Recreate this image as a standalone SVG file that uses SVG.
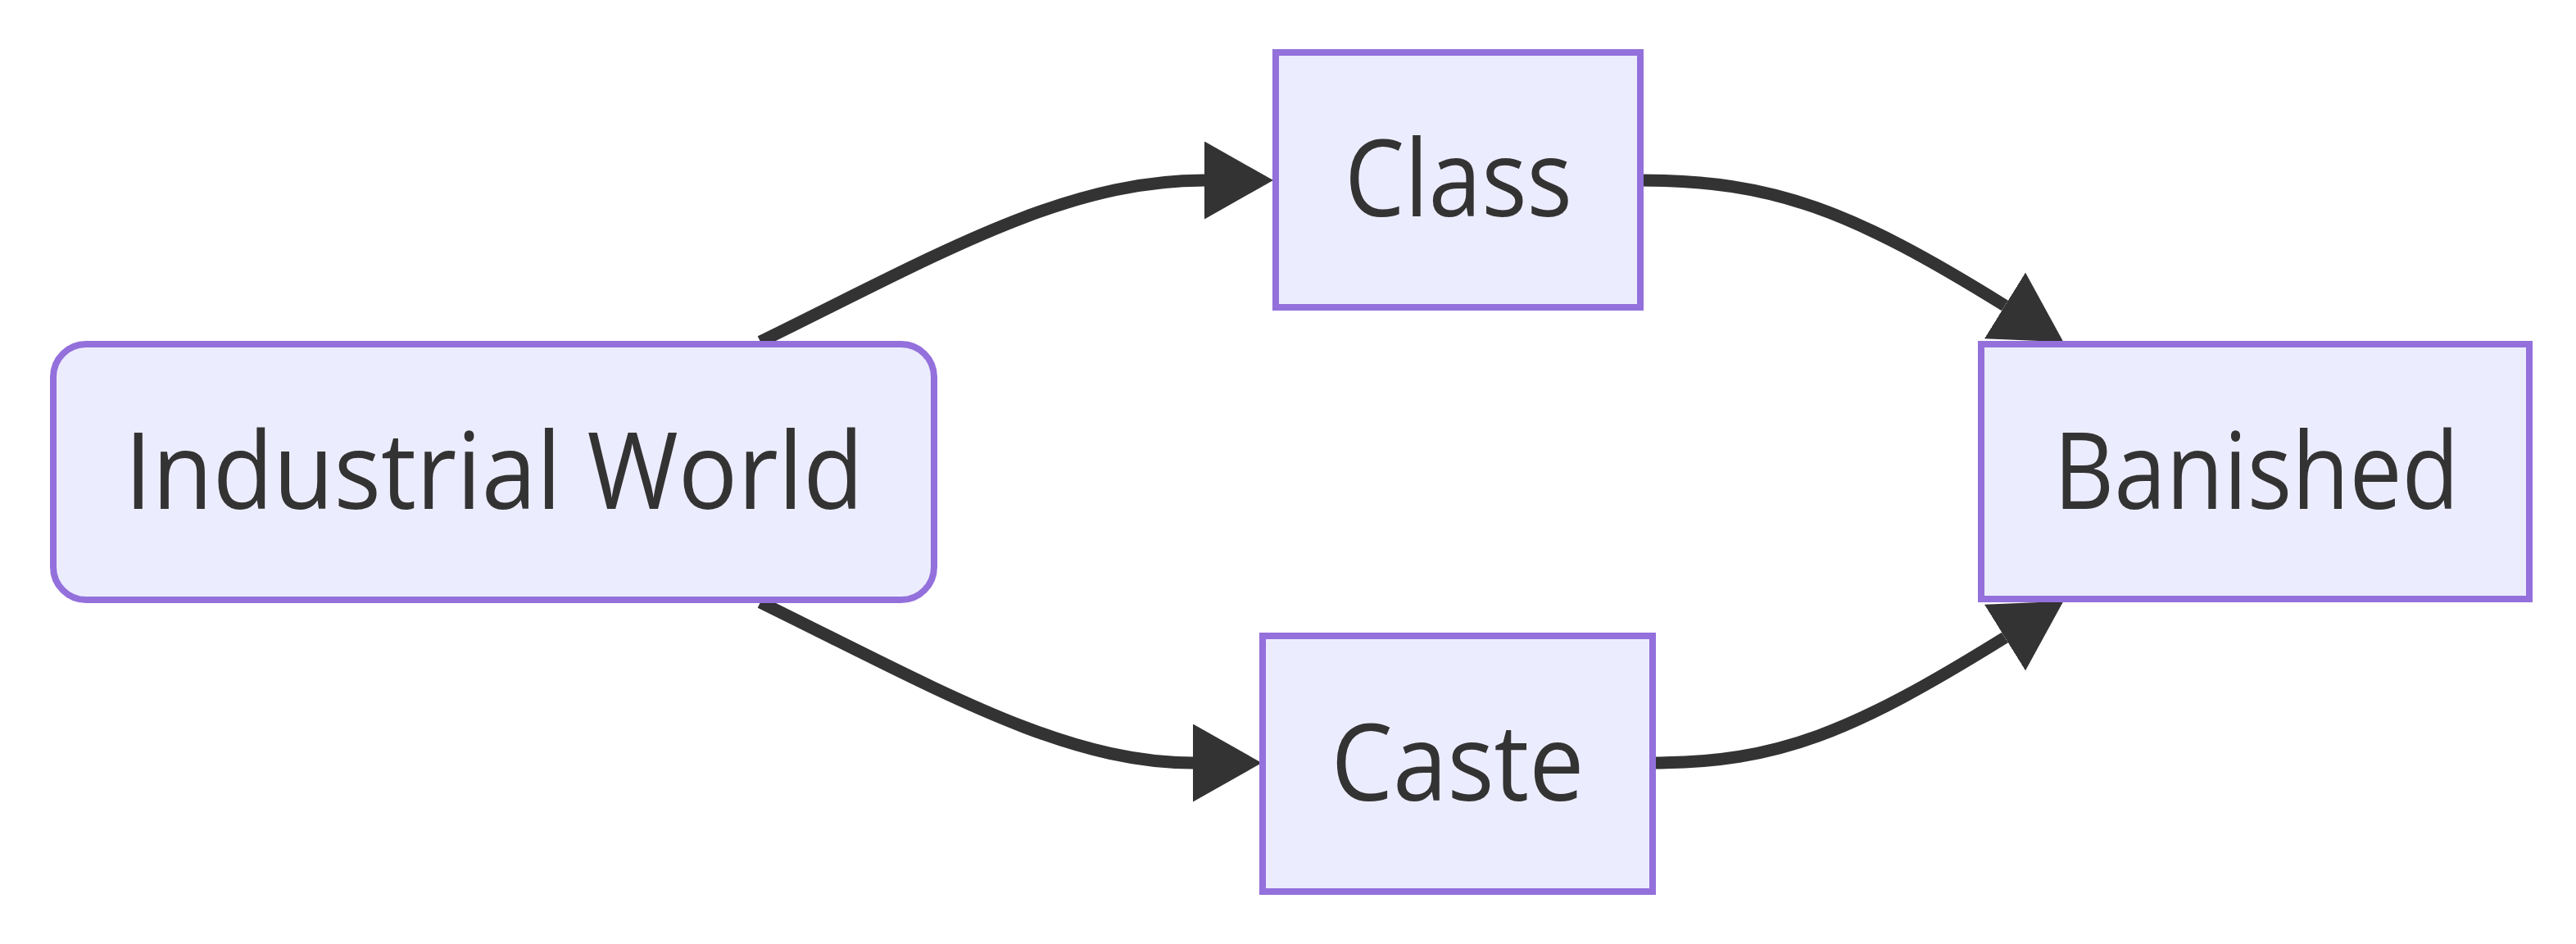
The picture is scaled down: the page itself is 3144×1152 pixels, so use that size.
<svg xmlns="http://www.w3.org/2000/svg" width="3144" height="1152" viewBox="0 0 3144 1152">
  <style>
    .node rect { fill: #ECECFF; stroke: #9370DB; stroke-width: 8; }
    .label { font-family: "Open Sans", "Liberation Sans", sans-serif; font-size: 130px; font-weight: 500; fill: #333333; text-anchor: middle; }
    .edge { fill: none; stroke: #333333; stroke-width: 15; marker-end: url(#arrow); }
  </style>
  <defs>
    <marker id="arrow" viewBox="0 0 84 95" refX="0" refY="47.5" markerWidth="84" markerHeight="95" markerUnits="userSpaceOnUse" orient="auto">
      <path d="M0,0 L84,47.5 L0,95 z" fill="#333333"/>
    </marker>
  </defs>
  <rect x="0" y="0" width="3144" height="1152" fill="#FFFFFF"/>
  <g id="connectors">
    <path class="edge" d="M928,417 C1150,308 1300,220 1470,220"/>
    <path class="edge" d="M928,735 C1150,844 1300,931 1456,931"/>
    <path class="edge" d="M2002,220 C2165,220 2260,257 2447,373"/>
    <path class="edge" d="M2017,931 C2170,931 2260,894 2447,778"/>
  </g>
  <g id="node-industrial-world" class="node">
    <rect x="65" y="420" width="1075" height="312" rx="40" ry="40"/>
    <text class="label" x="603" y="621" textLength="902" lengthAdjust="spacingAndGlyphs">Industrial World</text>
  </g>
  <g id="node-class" class="node">
    <rect x="1557" y="64" width="445" height="311"/>
    <text class="label" x="1780" y="264" textLength="278" lengthAdjust="spacingAndGlyphs">Class</text>
  </g>
  <g id="node-caste" class="node">
    <rect x="1541" y="776" width="476" height="312"/>
    <text class="label" x="1779" y="977" textLength="309" lengthAdjust="spacingAndGlyphs">Caste</text>
  </g>
  <g id="node-banished" class="node">
    <rect x="2418" y="420" width="669" height="311"/>
    <text class="label" x="2754" y="621" textLength="495" lengthAdjust="spacingAndGlyphs">Banished</text>
  </g>
</svg>
